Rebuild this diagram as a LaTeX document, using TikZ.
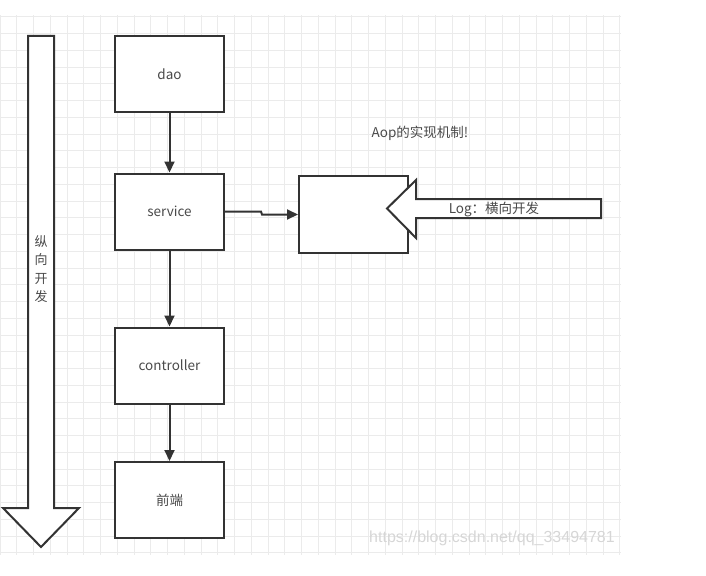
\documentclass[tikz,border=0pt]{standalone}
\usepackage{fontspec}
\setmainfont{Noto Sans CJK SC}
\newfontfamily\wmfont{Liberation Sans}
\usetikzlibrary{arrows.meta}
\definecolor{gridgray}{HTML}{EBEBEB}
\definecolor{linegray}{HTML}{333333}
\definecolor{textgray}{HTML}{4A4A4A}
\definecolor{markgray}{HTML}{D6D6D6}
\tikzset{
  layer/.style={draw=linegray, line width=2pt, fill=white, minimum width=109pt,
    minimum height=76pt, inner sep=0pt, text=textgray, font=\fontsize{13.5}{15}\selectfont},
  flow/.style={draw=linegray, line width=2pt, -{Triangle[length=11pt,width=10pt]}},
  bigarrow/.style={draw=linegray, line width=2pt, fill=white, line join=miter},
  tag/.style={text=textgray, font=\fontsize{13.5}{15}\selectfont, inner sep=0pt},
}
\begin{document}
\begin{tikzpicture}[x=1pt, y=-1pt]
        \useasboundingbox (0,0) rectangle (706,575);

        % background grid
        \foreach \i in {0,...,37}
          \draw[gridgray, line width=0.8pt] (\i*16.75,15) -- (\i*16.75,555);
        \foreach \j in {1,...,33}
          \draw[gridgray, line width=0.8pt] (0,\j*16.75) -- (621,\j*16.75);

        % vertical development arrow
        \draw[bigarrow] (28,36) -- (54,36) -- (54,508) -- (79,508) -- (41,547)
          -- (3,508) -- (28,508) -- cycle;
        \node[tag, align=center, font=\fontsize{13}{18.5}\selectfont] (vlabel) at (41,269) {纵\\向\\开\\发};

        \node[layer] (dao) at (169.5,74) {dao};
        \node[layer] (service) at (169.5,211.5) {service};
        \node[layer] (controller) at (169.5,365.5) {controller};
        \node[layer] (front) at (169.5,500) {前端};
        \node[layer, minimum height=77pt] (aop) at (353.5,214.5) {};

        \path (dao) edge[flow] (service);
        \path (service) edge[flow] (controller);
        \path (controller) edge[flow] (front);
        \draw[flow] (service.east) -- ([xshift=36pt]service.east)
          -- ([xshift=-36pt]aop.west) -- (aop.west);

        % horizontal log arrow
        \draw[bigarrow] (601,199) -- (601,218) -- (416,218) -- (416,238) -- (387,208.5)
          -- (416,180) -- (416,199) -- cycle;
        \node[tag] (loglabel) at (494,209) {Log：横向开发};

        \node[tag] (title) at (420,133) {Aop的实现机制!};

        \node[text=markgray, font=\wmfont\fontsize{16}{18}\selectfont, inner sep=0pt] (mark)
          at (492,538) {https://blog.csdn.net/qq\_33494781};
      \end{tikzpicture}
\end{document}
